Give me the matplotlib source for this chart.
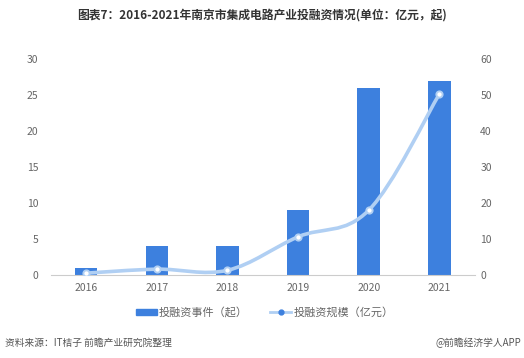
import numpy as np
import matplotlib.pyplot as plt
from matplotlib.path import Path
from matplotlib.patches import PathPatch
from matplotlib.lines import Line2D
from matplotlib.patches import Patch

plt.rcParams['font.family'] = ['Noto Sans CJK SC', 'DejaVu Sans']

years = ['2016', '2017', '2018', '2019', '2020', '2021']
events = [1, 4, 4, 9, 26, 27]
scale = [0.5, 1.6, 1.3, 10.6, 18.0, 50.3]

bar_color = '#3d80de'
line_color = '#b0cff3'
tick_color = '#666666'

fig = plt.figure(figsize=(5.24, 3.58), dpi=100)
ax = fig.add_axes([0.097, 0.232, 0.809, 0.603])
ax2 = ax.twinx()

x = np.arange(len(years))
ax.bar(x, events, width=0.32, color=bar_color, zorder=2)
ax.set_xlim(-0.5, len(years) - 0.5)
ax.set_ylim(0, 30)
ax.set_yticks(range(0, 31, 5))
ax2.set_ylim(0, 60)
ax2.set_yticks(range(0, 61, 10))
ax.set_xticks(x)
ax.set_xticklabels(years)

# smooth curve through the points (cubic bezier segments)
verts = [(x[0], scale[0])]
codes = [Path.MOVETO]
k = 0.35
for i in range(len(x) - 1):
    p0 = (x[max(i - 1, 0)], scale[max(i - 1, 0)])
    p1 = (x[i], scale[i])
    p2 = (x[i + 1], scale[i + 1])
    p3 = (x[min(i + 2, len(x) - 1)], scale[min(i + 2, len(x) - 1)])
    c1 = (p1[0] + (p2[0] - p0[0]) * k / 2, p1[1] + (p2[1] - p0[1]) * k / 2)
    c2 = (p2[0] - (p3[0] - p1[0]) * k / 2, p2[1] - (p3[1] - p1[1]) * k / 2)
    verts += [c1, c2, p2]
    codes += [Path.CURVE4] * 3
ax2.add_patch(PathPatch(Path(verts, codes), fill=False, edgecolor=line_color,
                        lw=2.6, capstyle='round', zorder=3))
ax2.plot(x, scale, ls='none', marker='o', ms=4.5, mfc='white', mec=line_color,
         mew=1.4, zorder=4)

for a in (ax, ax2):
    for s in ('top', 'left', 'right'):
        a.spines[s].set_visible(False)
    a.tick_params(length=0, labelsize=7.5, colors=tick_color, pad=6)
ax2.spines['bottom'].set_visible(False)
ax.spines['bottom'].set_color('#cccccc')
ax.tick_params(axis='y', pad=9)
ax2.tick_params(axis='y', pad=4)

handles = [Patch(color=bar_color),
           Line2D([0], [0], color=line_color, lw=2, marker='o', ms=3.5,
                  mfc=bar_color, mec=bar_color)]
fig.legend(handles, ['投融资事件（起）', '投融资规模（亿元）'], loc='center',
           bbox_to_anchor=(0.505, 0.128), ncol=2, frameon=False, fontsize=8,
           labelcolor=tick_color, handlelength=1.9, handleheight=0.5,
           handletextpad=0.2, columnspacing=2.0)

fig.text(0.5, 0.958, '图表7：2016-2021年南京市集成电路产业投融资情况(单位：亿元，起)',
         ha='center', va='center', fontsize=8.5, fontweight='bold', color='#333333')
fig.text(0.01, 0.042, '资料来源：IT桔子 前瞻产业研究院整理', ha='left', va='center',
         fontsize=7, color='#555555')
fig.text(0.995, 0.042, '@前瞻经济学人APP', ha='right', va='center',
         fontsize=7, color='#555555')

fig.savefig('out.png', dpi=100)
